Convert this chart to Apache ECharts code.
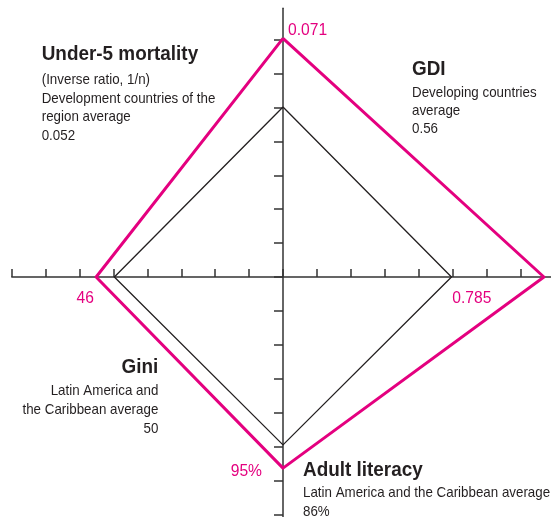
<!DOCTYPE html>
<html>
<head>
<meta charset="utf-8">
<script src="https://cdn.jsdelivr.net/npm/echarts@6/dist/echarts.min.js"></script>
<style>
html,body{margin:0;padding:0;background:#fff;}
#chart{width:551px;height:517px;}
</style>
</head>
<body>
<div id="chart"></div>
<script>
// Indicators in radar order: top, left, bottom, right
var indicatorNames = ['Under-5 mortality', 'Gini', 'Adult literacy', 'GDI'];
// Axis range of each indicator (value at centre, value at the outer end of the axis)
var axisMin = [0.005, 87, 21, 0.15];
var axisMax = [0.080, 27.5, 126, 0.81];
// Country values (magenta) and reference averages (black)
var countryValues = [0.071, 46, 95, 0.785];
var averageValues = [0.052, 50, 86, 0.56];
// Tick positions on the cross axes (unlabelled)
var xTickValues = [-8, -7, -6, -5, -4, -3, -2, -1, 0, 1, 2, 3, 4, 5, 6, 7];
var yTickValues = [-7, -6, -5, -4, -3, -2, -1, 0, 1, 2, 3, 4, 5, 6, 7];

var MAGENTA = '#e4007f';
var DARK = '#231f20';
var FONT = '"Liberation Sans", Arial, sans-serif';

var cx = 283, cy = 277, U = 33.9, R = 8 * U;
var xMin = -8, xMax = 7.9, yMin = -7.08, yMax = 7.93;

var graphics = [];
function txt(x, y, s, opt) {
  opt = opt || {};
  var size = opt.size || 15;
  var weight = opt.bold ? 'bold ' : '';
  var align = opt.align || 'left';
  graphics.push({
    type: 'text', x: x, y: y, scaleX: opt.scale || 0.89, z: 100,
    style: {
      text: s, font: weight + size + 'px ' + FONT, fill: opt.color || DARK,
      align: align, textAlign: align, verticalAlign: 'middle', textVerticalAlign: 'middle'
    }
  });
}
var H = {bold: true, size: 21, scale: 0.9};
// Under-5 mortality block
txt(41.7, 54.5, indicatorNames[0], H);
txt(41.7, 80, '(Inverse ratio, 1/n)');
txt(41.7, 98.5, 'Development countries of the');
txt(41.7, 117, 'region average');
txt(41.7, 135.5, String(averageValues[0]));
// GDI block
txt(412, 69.5, indicatorNames[3], H);
txt(412, 93, 'Developing countries');
txt(412, 111, 'average');
txt(412, 129, String(averageValues[3]));
// Gini block
txt(158.3, 367.5, indicatorNames[1], {bold: true, size: 21, scale: 0.9, align: 'right'});
txt(158.3, 391, 'Latin America and', {align: 'right'});
txt(158.3, 410, 'the Caribbean average', {align: 'right'});
txt(158.3, 428.5, String(averageValues[1]), {align: 'right'});
// Adult literacy block
txt(303, 470.5, indicatorNames[2], H);
txt(303, 493, 'Latin America and the Caribbean average');
txt(303, 511.5, averageValues[2] + '%');
// Country value labels
var V = {size: 17, scale: 0.92, color: MAGENTA};
txt(288, 30, String(countryValues[0]), V);
txt(94, 298, String(countryValues[1]), {size: 17, scale: 0.92, color: MAGENTA, align: 'right'});
txt(262, 471.5, countryValues[2] + '%', {size: 17, scale: 0.92, color: MAGENTA, align: 'right'});
txt(452.3, 298, String(countryValues[3]), V);

var lineStyle = {color: '#333', width: 1.5};

var chart = echarts.init(document.getElementById('chart'), null, {renderer: 'canvas'});
chart.setOption({
  animation: false,
  backgroundColor: '#fff',
  grid: {left: cx + xMin * U, top: cy - yMax * U, width: (xMax - xMin) * U, height: (yMax - yMin) * U},
  xAxis: {
    type: 'value', min: xMin, max: xMax,
    axisLine: {show: true, onZero: true, lineStyle: lineStyle},
    axisTick: {show: true, inside: true, length: 8, lineStyle: lineStyle, customValues: xTickValues},
    axisLabel: {show: false}, splitLine: {show: false}
  },
  yAxis: {
    type: 'value', min: yMin, max: yMax,
    axisLine: {show: true, onZero: true, lineStyle: lineStyle},
    axisTick: {show: true, inside: false, length: 9, lineStyle: lineStyle, customValues: yTickValues},
    axisLabel: {show: false}, splitLine: {show: false}
  },
  radar: {
    center: [cx, cy], radius: R, startAngle: 90, shape: 'polygon', splitNumber: 8,
    indicator: indicatorNames.map(function (n, i) { return {name: n, min: axisMin[i], max: axisMax[i]}; }),
    axisName: {show: false}, axisLine: {show: false}, splitLine: {show: false},
    splitArea: {show: false}, axisTick: {show: false}, axisLabel: {show: false}
  },
  series: [
    {type: 'radar', symbol: 'none', z: 3,
     lineStyle: {color: DARK, width: 1.3},
     data: [{value: averageValues, name: 'Average'}]},
    {type: 'radar', symbol: 'none', z: 4,
     lineStyle: {color: MAGENTA, width: 3},
     data: [{value: countryValues, name: 'Country'}]}
  ],
  graphic: graphics
});
</script>
</body>
</html>
